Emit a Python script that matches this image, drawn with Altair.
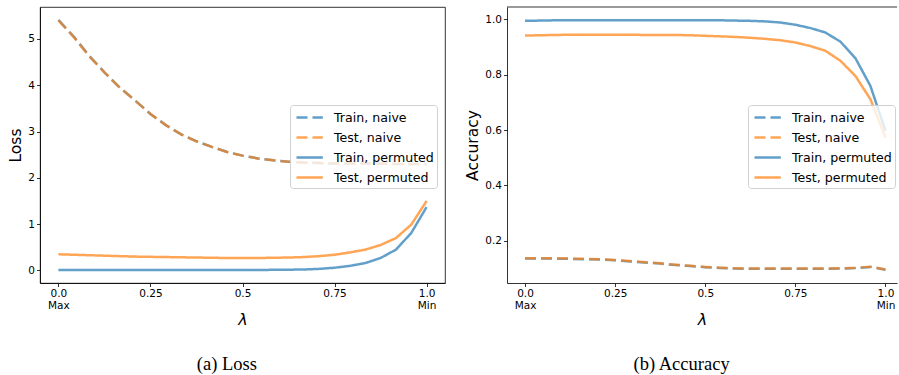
import altair as alt
import pandas as pd

# ---------------- data ----------------
lam = [0.0, 0.0417, 0.0833, 0.125, 0.1667, 0.2083, 0.25, 0.2917, 0.3333, 0.375,
       0.4167, 0.4583, 0.5, 0.5417, 0.5833, 0.625, 0.6667, 0.7083, 0.75, 0.7917,
       0.8333, 0.875, 0.9167, 0.9583, 1.0]

series_names = ["Train, naive", "Test, naive", "Train, permuted", "Test, permuted"]

loss_train_naive = [5.41, 5.05, 4.64, 4.28, 3.95, 3.67, 3.38, 3.14, 2.94, 2.79, 2.67, 2.56, 2.48,
                    2.42, 2.38, 2.35, 2.33, 2.32, 2.31, 2.31, 2.31, 2.31, 2.30, 2.30, 2.30]
loss_test_naive = [5.40, 5.04, 4.63, 4.28, 3.95, 3.67, 3.38, 3.14, 2.94, 2.79, 2.67, 2.56, 2.48,
                   2.42, 2.38, 2.35, 2.33, 2.32, 2.31, 2.31, 2.31, 2.31, 2.30, 2.30, 2.30]
loss_train_perm = [0.01, 0.01, 0.01, 0.01, 0.01, 0.01, 0.01, 0.01, 0.01, 0.01, 0.01, 0.01, 0.01,
                   0.012, 0.014, 0.017, 0.022, 0.035, 0.06, 0.10, 0.16, 0.27, 0.45, 0.81, 1.37]
loss_test_perm = [0.35, 0.34, 0.33, 0.32, 0.31, 0.30, 0.295, 0.29, 0.285, 0.28, 0.275, 0.27, 0.27,
                  0.27, 0.275, 0.28, 0.29, 0.31, 0.34, 0.39, 0.45, 0.55, 0.70, 0.99, 1.50]

acc_train_naive = [0.136, 0.136, 0.136, 0.135, 0.134, 0.133, 0.130, 0.126, 0.122, 0.118, 0.113, 0.109,
                   0.105, 0.102, 0.100, 0.099, 0.099, 0.099, 0.099, 0.099, 0.099, 0.100, 0.102, 0.106, 0.096]
acc_test_naive = [0.137, 0.137, 0.137, 0.136, 0.135, 0.134, 0.131, 0.127, 0.123, 0.119, 0.114, 0.110,
                  0.106, 0.103, 0.101, 0.100, 0.100, 0.100, 0.100, 0.100, 0.100, 0.101, 0.103, 0.107, 0.097]
acc_train_perm = [0.994, 0.995, 0.996, 0.996, 0.996, 0.996, 0.996, 0.996, 0.996, 0.996, 0.996, 0.996,
                  0.996, 0.996, 0.995, 0.994, 0.992, 0.988, 0.980, 0.968, 0.952, 0.919, 0.859, 0.759, 0.597]
acc_test_perm = [0.941, 0.942, 0.943, 0.944, 0.944, 0.944, 0.944, 0.944, 0.943, 0.943, 0.943, 0.942,
                 0.940, 0.938, 0.936, 0.933, 0.929, 0.924, 0.916, 0.903, 0.886, 0.850, 0.795, 0.711, 0.573]

x_tick_values = [0.0, 0.25, 0.5, 0.75, 1.0]
x_tick_labels = [["0.0", "Max"], ["0.25"], ["0.5"], ["0.75"], ["1.0", "Min"]]
loss_ticks = [0, 1, 2, 3, 4, 5]
acc_ticks = [0.2, 0.4, 0.6, 0.8, 1.0]

colors = ["#1f77b4", "#ff7f0e", "#1f77b4", "#ff7f0e"]
dashes = [[11, 5], [11, 5], [1, 0], [1, 0]]

SANS = "DejaVu Sans"


def long_df(cols):
    rows = []
    for name, vals in zip(series_names, cols):
        for x, v in zip(lam, vals):
            rows.append({"lam": x, "val": v, "series": name})
    return pd.DataFrame(rows)


loss_df = long_df([loss_train_naive, loss_test_naive, loss_train_perm, loss_test_perm])
acc_df = long_df([acc_train_naive, acc_test_naive, acc_train_perm, acc_test_perm])


def label_expr(values, labels):
    expr = "datum.label"
    for v, lab in reversed(list(zip(values, labels))):
        arr = "[" + ",".join("'%s'" % s for s in lab) + "]"
        expr = "datum.value == %s ? %s : (%s)" % (v, arr, expr)
    return expr


def make_legend(lx, ly):
    return alt.Legend(
        title=None, orient="none", legendX=lx, legendY=ly,
        symbolType="M-0.75,0H2.54", symbolSize=256, symbolStrokeWidth=2.5,
        symbolOpacity=0.7, labelFont=SANS, labelFontSize=12.6,
        labelColor="black", labelOffset=22, rowPadding=3, padding=3,
        fillColor="rgba(255,255,255,0.8)", strokeColor="#d0d0d0", cornerRadius=3,
    )


def panel(df, ytitle, ydomain, yticks, yfmt, xdomain, lx, ly):
    legend = make_legend(lx, ly)
    return alt.Chart(df).mark_line(strokeWidth=2.5, strokeOpacity=0.7, clip=True).encode(
        x=alt.X("lam:Q",
                scale=alt.Scale(domain=xdomain, nice=False, zero=False),
                axis=alt.Axis(values=x_tick_values, labelExpr=label_expr(x_tick_values, x_tick_labels),
                              title="λ", labelFlush=False, labelOverlap=False,
                              labelLineHeight=11.5, titleFontStyle="italic", titleFontSize=16,
                              titlePadding=1)),
        y=alt.Y("val:Q",
                scale=alt.Scale(domain=ydomain, nice=False, zero=False),
                axis=alt.Axis(values=yticks, format=yfmt, title=ytitle, titleFontSize=15.5,
                              titlePadding=4, labelOverlap=False)),
        color=alt.Color("series:N", scale=alt.Scale(domain=series_names, range=colors), legend=legend),
        strokeDash=alt.StrokeDash("series:N", scale=alt.Scale(domain=series_names, range=dashes),
                                  legend=legend),
    )


loss_line = panel(loss_df, "Loss", [-0.27, 5.69], loss_ticks, "d", [-0.05, 1.05], 250, 98)
acc_line = panel(acc_df, "Accuracy", [0.048, 1.044], acc_ticks, ".1f", [-0.05, 1.032], 241, 98)

cap_style = dict(orient="bottom", font="Liberation Serif", fontSize=18.5, fontWeight="normal",
                 frame="bounds", anchor="middle", offset=27, color="black")

left = loss_line.properties(
    width=405, height=276,
    title=alt.TitleParams("(a) Loss", **cap_style),
)

top_spine = alt.Chart(pd.DataFrame({"y": [acc_ticks[-1] + 0.044]})).mark_rule(
    color="black", strokeWidth=0.8).encode(y=alt.Y("y:Q"))

right = alt.layer(acc_line, top_spine).properties(
    width=390, height=276,
    title=alt.TitleParams("(b) Accuracy", **cap_style),
    view=alt.ViewBackground(strokeWidth=0, strokeOpacity=0),
)

chart = alt.hconcat(left, right, spacing=62, bounds="flush").resolve_scale(
    color="independent", strokeDash="independent"
).resolve_legend(
    color="independent", strokeDash="independent"
).properties(
    padding={"left": 8, "top": 6, "right": 0, "bottom": 0},
).configure_view(
    stroke="black", strokeWidth=0.8
).configure_axis(
    domainColor="black", domainWidth=0.8, tickColor="black", tickWidth=0.8, tickSize=3.5,
    labelFont=SANS, labelFontSize=10.5, labelColor="black", labelPadding=2,
    titleFont=SANS, titleFontWeight="normal", titleColor="black", grid=False,
)

chart.save("out.html", embed_options={"renderer": "svg", "actions": False})
